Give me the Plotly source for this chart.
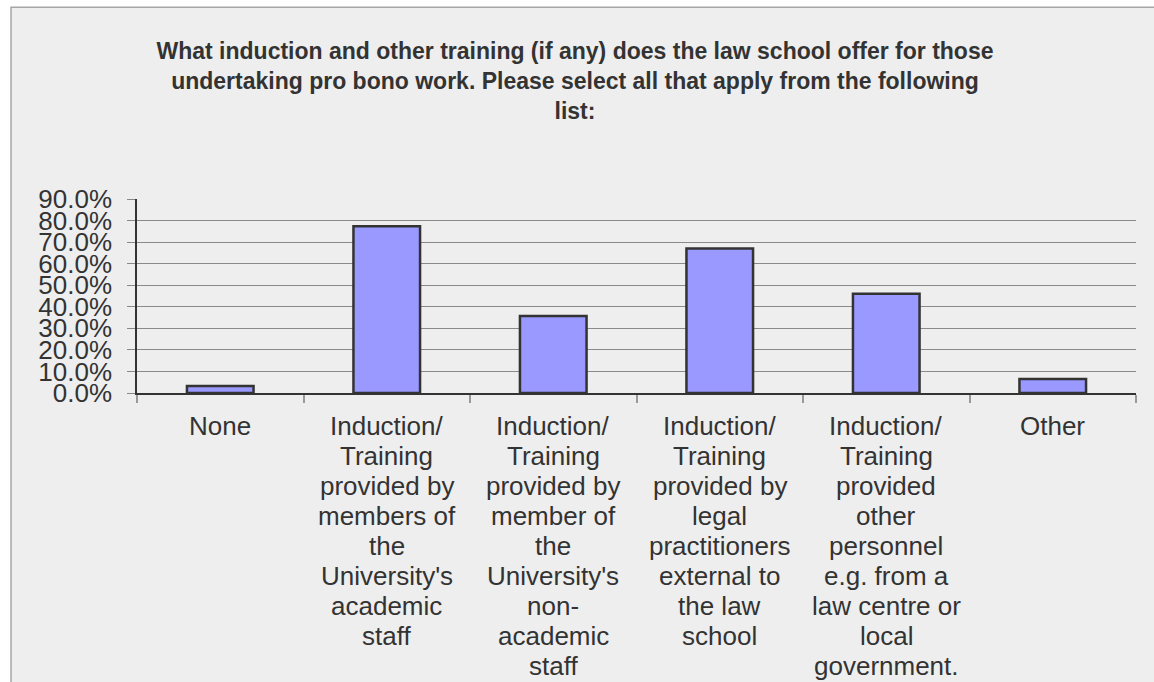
import plotly.graph_objects as go

# ---- data ----
categories = [
    "None",
    "Induction/<br>Training<br>provided by<br>members of<br>the<br>University's<br>academic<br>staff",
    "Induction/<br>Training<br>provided by<br>member of<br>the<br>University's<br>non-<br>academic<br>staff",
    "Induction/<br>Training<br>provided by<br>legal<br>practitioners<br>external to<br>the law<br>school",
    "Induction/<br>Training<br>provided<br>other<br>personnel<br>e.g. from a<br>law centre or<br>local<br>government.",
    "Other",
]
values = [3.2, 77.4, 35.7, 67.0, 46.1, 6.5]  # percent
title_text = ("What induction and other training (if any) does the law school offer for those<br>"
              "undertaking pro bono work. Please select all that apply from the following<br>"
              "list:")

W, H = 1154, 682
L, R, T = 137, 18, 199
B = round(H - 393.3)
plot_w = W - L - R
plot_h = H - T - B

FONT = "Liberation Sans, Arial, sans-serif"
TXT = "#333333"

fig = go.Figure()
fig.add_trace(go.Bar(
    x=list(range(len(categories))),
    y=values,
    marker=dict(color="#9999ff", line=dict(color="#333333", width=2.5)),
    width=0.4,
))

# category labels, one annotation per line for tight line spacing
annotations = []
for i, cat in enumerate(categories):
    for j, line in enumerate(cat.split("<br>")):
        annotations.append(dict(
            x=i, xref="x", y=0, yref="paper",
            text=line, showarrow=False,
            xanchor="center", yanchor="middle",
            yshift=-33 - 30 * j,
            font=dict(family=FONT, size=26, color=TXT),
        ))

def px_x(px):
    return (px - L) / plot_w

def px_y(py):
    return (H - B - py) / plot_h

fig.add_shape(
    type="rect", xref="paper", yref="paper", layer="below",
    x0=px_x(11), x1=px_x(1180), y0=px_y(700), y1=px_y(7.3),
    fillcolor="#eeeeee", line=dict(color="#a6a6a6", width=1.5),
)

fig.update_layout(
    width=W, height=H,
    margin=dict(l=L, r=R, t=T, b=B, pad=0),
    paper_bgcolor="white",
    plot_bgcolor="rgba(0,0,0,0)",
    showlegend=False,
    title=dict(
        text="<b>" + title_text.replace("<br>", "</b><br><b>") + "</b>",
        x=575 / W, xanchor="center",
        y=1 - 59 / H, yanchor="top",
        font=dict(family=FONT, size=23, color="#333333"),
    ),
    annotations=annotations,
    xaxis=dict(
        type="linear",
        range=[-0.5, len(categories) - 0.5],
        tickmode="array",
        tickvals=[k - 0.5 for k in range(len(categories) + 1)],
        showticklabels=False,
        ticks="outside", ticklen=8, tickcolor="#999999", tickwidth=1.5,
        showline=True, linecolor="#333333", linewidth=1.5,
        showgrid=False, zeroline=False, fixedrange=True,
    ),
    yaxis=dict(
        range=[0, 90], dtick=10, tick0=0,
        tickformat=".1f", ticksuffix="%",
        tickfont=dict(family=FONT, size=26, color=TXT),
        ticks="outside", ticklen=8, tickcolor="#888888", tickwidth=1,
        ticklabelstandoff=10,
        showline=True, linecolor="#333333", linewidth=1.5,
        showgrid=True, gridcolor="#8a8a8a", gridwidth=1,
        zeroline=False, fixedrange=True,
    ),
)

fig.write_html(
    "out.html",
    config={"displayModeBar": False},
    post_script="document.body.style.margin='0';document.body.style.overflow='hidden';",
)
